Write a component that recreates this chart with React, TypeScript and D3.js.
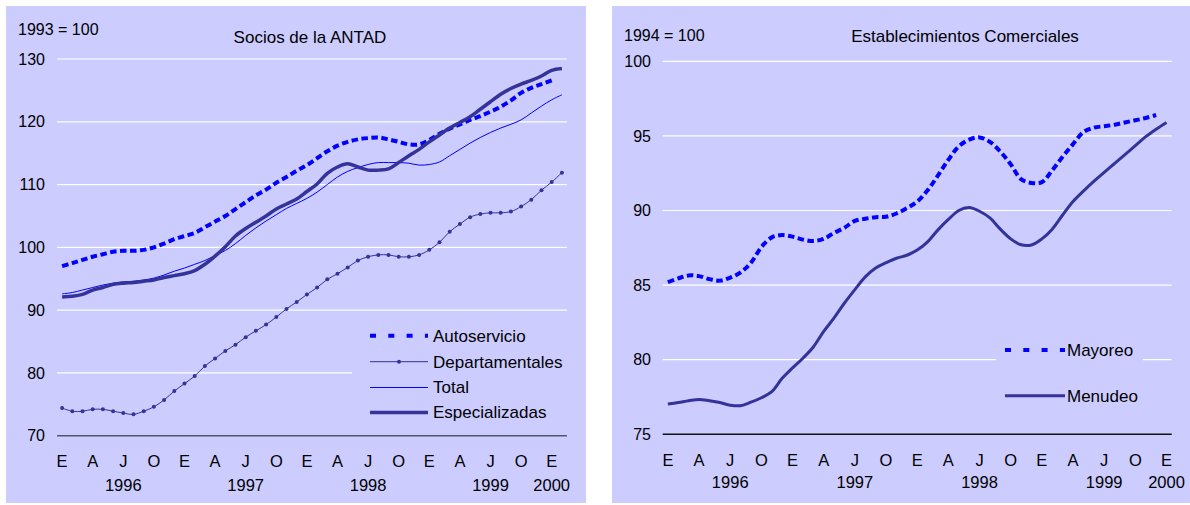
import React from "react";
import * as d3 from "d3";

// ---------- DATA ----------
const monthLetters = ["E", "A", "J", "O"];
const yearLabelsLeft = ["1996", "1997", "1998", "1999", "2000"];
const yearLabelsRight = ["1996", "1997", "1998", "1999", "2000"];

const leftTicks = [70, 80, 90, 100, 110, 120, 130];
const rightTicks = [75, 80, 85, 90, 95, 100];

// Jan 1996 .. Feb 2000 (50 months)
const autoservicio = [
  97.0, 97.5, 98.0, 98.5, 98.9, 99.3, 99.45, 99.45, 99.6, 100.0, 100.6, 101.3,
  101.8, 102.3, 103.2, 104.1, 105.0, 106.1, 107.2, 108.3, 109.2, 110.3, 111.2, 112.2,
  113.1, 114.2, 115.3, 116.2, 116.8, 117.2, 117.4, 117.5, 117.2, 116.8, 116.4, 116.4,
  117.1, 118.1, 118.9, 119.6, 120.3, 120.9, 121.6, 122.4, 123.4, 124.6, 125.4, 126.0,
  126.6,
];
const departamentales = [
  74.4, 73.9, 73.9, 74.2, 74.2, 73.9, 73.6, 73.4, 73.9, 74.6, 75.7, 77.1,
  78.3, 79.5, 81.1, 82.3, 83.5, 84.5, 85.7, 86.7, 87.7, 88.9, 90.2, 91.3,
  92.5, 93.6, 94.9, 95.8, 96.8, 97.9, 98.5, 98.8, 98.8, 98.5, 98.5, 98.8,
  99.6, 100.8, 102.5, 103.7, 104.8, 105.3, 105.5, 105.5, 105.7, 106.5, 107.6, 109.1,
  110.4, 111.9,
];
const total = [
  92.6, 92.8, 93.2, 93.6, 94.0, 94.3, 94.5, 94.6, 94.8, 95.1, 95.6, 96.2,
  96.7, 97.3, 97.9, 98.7, 99.5, 100.6, 101.9, 103.1, 104.2, 105.2, 106.2, 107.0,
  107.8, 108.8, 110.0, 111.2, 112.1, 112.7, 113.2, 113.5, 113.5, 113.5, 113.4, 113.1,
  113.2, 113.6, 114.6, 115.6, 116.6, 117.5, 118.3, 119.0, 119.6, 120.3, 121.4, 122.5,
  123.5, 124.3,
];
const especializadas = [
  92.1, 92.2, 92.5, 93.2, 93.6, 94.1, 94.3, 94.4, 94.6, 94.8, 95.2, 95.5,
  95.8, 96.3, 97.3, 98.6, 100.1, 101.8, 103.0, 104.0, 105.0, 106.1, 106.9, 107.7,
  108.9, 110.1, 111.8, 112.8, 113.3, 112.8, 112.3, 112.3, 112.5, 113.5, 114.6, 115.6,
  116.8, 117.9, 119.0, 119.9, 120.8, 122.0, 123.2, 124.4, 125.3, 126.0, 126.6, 127.3,
  128.2, 128.5,
];

// Jan 1996 .. Jan 2000 (49 months)
const mayoreo = [
  85.2, 85.45, 85.65, 85.6, 85.4, 85.3, 85.5, 85.85, 86.5, 87.55, 88.2, 88.35,
  88.25, 88.05, 87.95, 88.1, 88.5, 88.85, 89.3, 89.45, 89.55, 89.58, 89.8, 90.15,
  90.6, 91.35, 92.35, 93.4, 94.3, 94.75, 94.9, 94.6, 93.95, 93.1, 92.1, 91.85,
  91.9, 92.7, 93.6, 94.45, 95.25, 95.55, 95.65, 95.75, 95.9, 96.05, 96.2, 96.4,
];
const menudeo = [
  77.03, 77.13, 77.25, 77.34, 77.25, 77.13, 76.95, 76.92, 77.15, 77.45, 77.86, 78.75,
  79.45, 80.1, 80.85, 81.9, 82.8, 83.8, 84.7, 85.55, 86.15, 86.5, 86.8, 87.0,
  87.35, 87.9, 88.7, 89.4, 90.0, 90.2, 89.95, 89.5, 88.75, 88.1, 87.7, 87.69,
  88.1, 88.75, 89.7, 90.6, 91.3, 91.95, 92.55, 93.15, 93.75, 94.35, 94.95, 95.45,
  95.9,
];

// ---------- STYLE ----------
const BG = "#CCCCFF";
const NAVY = "#333399";
const BLUE = "#0000FF";
const FONT = "'Liberation Sans', Arial, sans-serif";
const FS_TICK = 16;
const FS_X = 16.5;
const FS_TITLE = 17;
const FS_BASE = 16;
const FS_LEG = 17;

type Series = {
  name: string;
  values: number[];
  color: string;
  width: number;
  dash?: string;
  legendDash?: string;
  markers?: boolean;
};

type PanelProps = {
  bx: number; by: number; bw: number; bh: number;
  x0: number; x1: number; yTop: number; yBottom: number;
  nCats: number;
  domain: [number, number];
  ticks: number[];
  tickX: number;
  baseColor: string;
  baseLabel: string; baseLabelX: number; baseLabelY: number;
  title: string; titleX: number; titleY: number;
  series: Series[];
  years: string[];
  yearIdx: number[];
  monthY: number; yearY: number;
  legend: { bx: number; by: number; bw: number; bh: number; lx0: number; lx1: number; tx: number; ys: number[] };
};

function Panel(p: PanelProps) {
  const idx = d3.range(p.nCats);
  const x = d3.scalePoint<number>().domain(idx).range([p.x0, p.x1]).padding(0.5);
  const y = d3.scaleLinear().domain(p.domain).range([p.yBottom, p.yTop]);
  const line = d3
    .line<number>()
    .x((_, i) => x(i) as number)
    .y((d) => y(d))
    .curve(d3.curveCatmullRom.alpha(0.5));

  return (
    <g>
      <rect x={p.bx} y={p.by} width={p.bw} height={p.bh} fill={BG} />
      {p.ticks.map((t, i) => (
        <g key={t}>
          {i > 0 && (
            <line x1={p.x0} x2={p.x1} y1={y(t)} y2={y(t)} stroke="#FFFFFF" strokeWidth={1.2} />
          )}
          <text x={p.tickX} y={y(t)} dy="0.35em" textAnchor="end" fontSize={FS_TICK} fontFamily={FONT} fill="#000">
            {t}
          </text>
        </g>
      ))}
      <line x1={p.x0} x2={p.x1} y1={y(p.domain[0])} y2={y(p.domain[0])} stroke={p.baseColor} strokeWidth={1.5} />
      {idx
        .filter((i) => i % 3 === 0)
        .map((i) => (
          <text key={i} x={x(i)} y={p.monthY} dy="0.35em" textAnchor="middle" fontSize={FS_X} fontFamily={FONT} fill="#000">
            {monthLetters[(i / 3) % 4]}
          </text>
        ))}
      {p.years.map((yl, k) => (
        <text key={yl} x={x(p.yearIdx[k])} y={p.yearY} dy="0.35em" textAnchor="middle" fontSize={FS_X} fontFamily={FONT} fill="#000">
          {yl}
        </text>
      ))}
      <text x={p.baseLabelX} y={p.baseLabelY} fontSize={FS_BASE} fontFamily={FONT} fill="#000">
        {p.baseLabel}
      </text>
      <text x={p.titleX} y={p.titleY} textAnchor="middle" fontSize={FS_TITLE} fontFamily={FONT} fill="#000">
        {p.title}
      </text>
      <rect x={p.legend.bx} y={p.legend.by} width={p.legend.bw} height={p.legend.bh} fill={BG} />
      {p.series.map((s) => (
        <g key={s.name}>
          <path d={line(s.values) || ""} fill="none" stroke={s.color} strokeWidth={s.width} strokeDasharray={s.dash} strokeLinejoin="round" />
          {s.markers &&
            s.values.map((v, i) => <circle key={i} cx={x(i)} cy={y(v)} r={2} fill={s.color} />)}
        </g>
      ))}
      {p.series.map((s, k) => {
        const ly = p.legend.ys[k];
        return (
          <g key={s.name + "-lg"}>
            <line x1={p.legend.lx0} x2={p.legend.lx1} y1={ly} y2={ly} stroke={s.color} strokeWidth={s.width} strokeDasharray={s.legendDash} />
            {s.markers && <circle cx={(p.legend.lx0 + p.legend.lx1) / 2} cy={ly} r={2} fill={s.color} />}
            <text x={p.legend.tx} y={ly} dy="0.35em" fontSize={FS_LEG} fontFamily={FONT} fill="#000">
              {s.name}
            </text>
          </g>
        );
      })}
    </g>
  );
}

export default function App() {
  const leftSeries: Series[] = [
    { name: "Autoservicio", values: autoservicio, color: BLUE, width: 4, dash: "6.5 3.5", legendDash: "6 12.3" },
    { name: "Departamentales", values: departamentales, color: NAVY, width: 1, markers: true },
    { name: "Total", values: total, color: BLUE, width: 1 },
    { name: "Especializadas", values: especializadas, color: NAVY, width: 3.5 },
  ];
  const rightSeries: Series[] = [
    { name: "Mayoreo", values: mayoreo, color: BLUE, width: 4, dash: "6.5 3.5", legendDash: "6 12.3" },
    { name: "Menudeo", values: menudeo, color: NAVY, width: 3 },
  ];
  return (
    <svg width={1190} height={505} style={{ position: "absolute", left: 0, top: 0, background: "#fff" }}>
      <Panel
        bx={6} by={6} bw={580} bh={497}
        x0={57} x1={567} yTop={59} yBottom={435.7}
        nCats={50} domain={[70, 130]} ticks={leftTicks} tickX={45}
        baseColor="#555566"
        baseLabel="1993 = 100" baseLabelX={18} baseLabelY={35}
        title="Socios de la ANTAD" titleX={310} titleY={43}
        series={leftSeries}
        years={yearLabelsLeft} yearIdx={[6, 18, 30, 42, 48]}
        monthY={461.7} yearY={485}
        legend={{ bx: 352, by: 321, bw: 228, bh: 108, lx0: 370, lx1: 428, tx: 433, ys: [335.7, 361.7, 387.5, 412.5] }}
      />
      <Panel
        bx={612} by={6} bw={578} bh={497}
        x0={662.7} x1={1171.7} yTop={61.3} yBottom={434.3}
        nCats={49} domain={[75, 100]} ticks={rightTicks} tickX={651}
        baseColor="#111111"
        baseLabel="1994 = 100" baseLabelX={624} baseLabelY={41}
        title="Establecimientos Comerciales" titleX={965} titleY={42}
        series={rightSeries}
        years={yearLabelsRight} yearIdx={[6, 18, 30, 42, 48]}
        monthY={460} yearY={482.7}
        legend={{ bx: 996, by: 322, bw: 147, bh: 98, lx0: 1005, lx1: 1065, tx: 1067, ys: [350, 395.7] }}
      />
    </svg>
  );
}
